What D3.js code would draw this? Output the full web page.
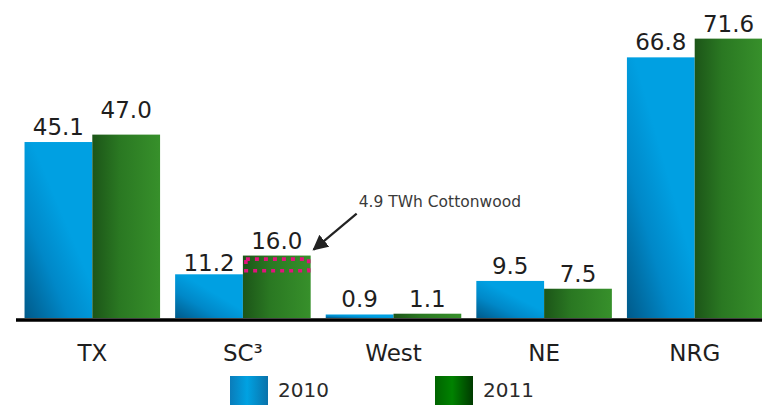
<!DOCTYPE html>
<html><head><meta charset="utf-8">
<script src="https://cdn.jsdelivr.net/npm/d3@7"></script>
<style>
html,body{margin:0;padding:0;background:#fff;}
svg{display:block;font-family:"DejaVu Sans",Verdana,sans-serif;}
</style></head>
<body>
<svg id="chart" width="762" height="405"></svg>
<script>
const categories = ["TX", "SC³", "West", "NE", "NRG"];
const seriesNames = ["2010", "2011"];
const values2010 = [45.1, 11.2, 0.9, 9.5, 66.8];
const values2011 = [47.0, 16.0, 1.1, 7.5, 71.6];
const annotationText = "4.9 TWh Cottonwood";
const annotationCategory = "SC³";
const annotationBand = [12.1, 15.1];

const svg = d3.select("#chart");
const W = 762, H = 405;
const baseY = 318;

const x0 = d3.scaleBand().domain(categories).range([17, 770]).paddingInner(0.1).paddingOuter(0.05);
const x1 = d3.scaleBand().domain(seriesNames).range([0, x0.bandwidth()]).padding(0);
const y = d3.scaleLinear().domain([0, 81.5]).range([baseY, 0]);

const defs = svg.append("defs");
const gBlue = defs.append("linearGradient").attr("id","gBlue")
  .attr("x1","0").attr("y1","1").attr("x2","0.55").attr("y2","0.4");
gBlue.append("stop").attr("offset","0").attr("stop-color","#005a8a");
gBlue.append("stop").attr("offset","0.55").attr("stop-color","#0088c8");
gBlue.append("stop").attr("offset","1").attr("stop-color","#00a0e2");
const gGreen = defs.append("linearGradient").attr("id","gGreen")
  .attr("x1","0").attr("y1","0").attr("x2","1").attr("y2","0");
gGreen.append("stop").attr("offset","0").attr("stop-color","#1c5518");
gGreen.append("stop").attr("offset","0.4").attr("stop-color","#2a7822");
gGreen.append("stop").attr("offset","1").attr("stop-color","#37902b");
const lBlue = defs.append("linearGradient").attr("id","lBlue")
  .attr("x1","0").attr("y1","0").attr("x2","1").attr("y2","0");
lBlue.append("stop").attr("offset","0").attr("stop-color","#0a7cba");
lBlue.append("stop").attr("offset","0.45").attr("stop-color","#00a2e2");
lBlue.append("stop").attr("offset","1").attr("stop-color","#0a72aa");
const lGreen = defs.append("linearGradient").attr("id","lGreen")
  .attr("x1","0").attr("y1","0").attr("x2","1").attr("y2","0");
lGreen.append("stop").attr("offset","0").attr("stop-color","#006400");
lGreen.append("stop").attr("offset","0.45").attr("stop-color","#008200");
lGreen.append("stop").attr("offset","1").attr("stop-color","#003a00");

const fills = {"2010":"url(#gBlue)","2011":"url(#gGreen)"};
const legendFills = {"2010":"url(#lBlue)","2011":"url(#lGreen)"};

const rows = categories.map((c,i)=>({cat:c, vals:[
  {s:"2010", v:values2010[i]}, {s:"2011", v:values2011[i]}]}));

const groups = svg.append("g").selectAll("g").data(rows).join("g")
  .attr("transform", d=>`translate(${x0(d.cat)},0)`);

groups.selectAll("rect").data(d=>d.vals).join("rect")
  .attr("x", d=>x1(d.s))
  .attr("width", x1.bandwidth())
  .attr("y", d=>y(d.v))
  .attr("height", d=>baseY - y(d.v))
  .attr("fill", d=>fills[d.s]);

const nudge = {"TX|2011": -10, "SC³|2010": 4};
groups.each(function(row){
  d3.select(this).selectAll("text.val").data(row.vals).join("text")
    .attr("class","val")
    .attr("x", d=>x1(d.s)+x1.bandwidth()/2)
    .attr("y", d=>y(d.v) - 7 + (nudge[row.cat+"|"+d.s]||0))
    .attr("text-anchor","middle")
    .attr("font-size", 23)
    .attr("fill","#1e1e1e")
    .text(d=>d.v.toFixed(1));
});

// axis baseline
const xAxis = svg.append("g").attr("transform",`translate(0,${baseY})`)
  .call(d3.axisBottom(x0).tickSize(0).tickPadding(0));
xAxis.select(".domain").remove();
xAxis.append("line").attr("x1",16).attr("x2",W).attr("y1",2).attr("y2",2)
  .attr("stroke","#000").attr("stroke-width",3.6);
xAxis.selectAll(".tick text")
  .attr("dy", 0).attr("y", 43)
  .attr("font-size", 23)
  .attr("font-family","DejaVu Sans, Verdana, sans-serif")
  .attr("fill","#1e1e1e");

// annotation
const ax = x0(annotationCategory) + x1("2011");
const ab = x1.bandwidth();
svg.append("rect")
  .attr("x", ax+3).attr("y", y(annotationBand[1]))
  .attr("width", ab-5).attr("height", y(annotationBand[0]) - y(annotationBand[1]))
  .attr("fill","none").attr("stroke","#e2127c").attr("stroke-width",3.6)
  .attr("stroke-dasharray","4,5");

defs.append("marker").attr("id","arrow").attr("viewBox","0 0 10 10")
  .attr("refX",9).attr("refY",5).attr("markerWidth",7).attr("markerHeight",7)
  .attr("orient","auto").attr("markerUnits","strokeWidth")
  .append("path").attr("d","M0,0 L10,5 L0,10 z").attr("fill","#222");
svg.append("line")
  .attr("x1", ax+ab+46).attr("y1", y(16.0)-42)
  .attr("x2", ax+ab+3).attr("y2", y(16.0)-6)
  .attr("stroke","#222").attr("stroke-width",2.2).attr("marker-end","url(#arrow)");
svg.append("text")
  .attr("x", ax+ab+48).attr("y", y(16.0)-49)
  .attr("font-size", 15.5).attr("fill","#3a3a3a")
  .text(annotationText);

// legend
const legendX = d3.scalePoint().domain(seriesNames).range([230, 435]);
const lg = svg.append("g").selectAll("g").data(seriesNames).join("g")
  .attr("transform", d=>`translate(${legendX(d)},376)`);
lg.append("rect").attr("width",38).attr("height",29).attr("fill",d=>legendFills[d]);
lg.append("text").attr("x",48).attr("y",21).attr("font-size",20).attr("fill","#2a2a2a").text(d=>d);
</script>
</body></html>
